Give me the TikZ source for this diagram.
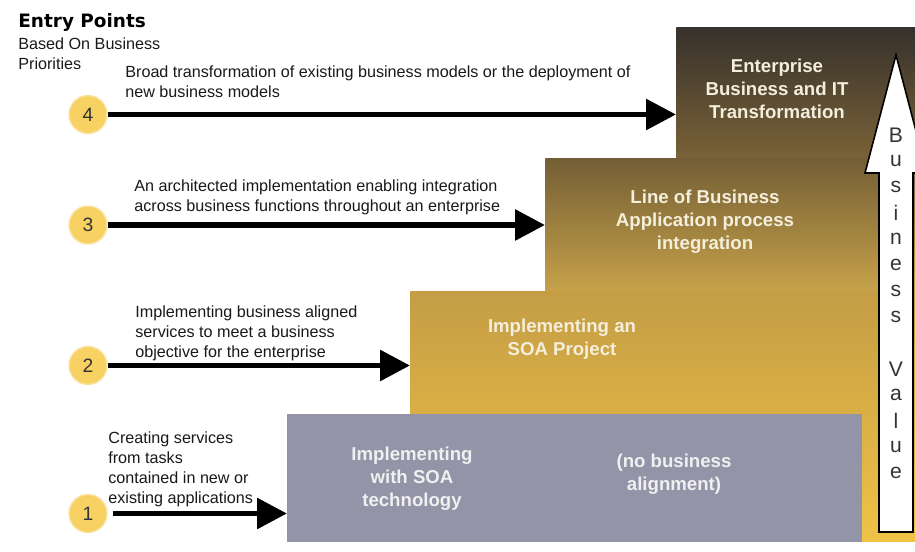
\documentclass[tikz,border=0pt]{standalone}
\usepackage{fontspec}
\setmainfont{Liberation Sans}
\newfontfamily\headfont{DejaVu Sans}
\usepackage{xcolor}
\usetikzlibrary{arrows.meta,positioning,shapes}

\definecolor{topstepA}{HTML}{36312C}
\definecolor{topstepB}{HTML}{7A6237}
\definecolor{lobA}{HTML}{735E35}
\definecolor{lobB}{HTML}{C7A24A}
\definecolor{projA}{HTML}{C49D45}
\definecolor{projB}{HTML}{F0C246}
\definecolor{techgray}{HTML}{9494A9}
\definecolor{badge}{HTML}{F7D262}
\definecolor{badgeedge}{HTML}{FAE3A2}
\definecolor{cream}{HTML}{F4EEDC}

\begin{document}
\begin{tikzpicture}[
    stepbox/.style={rectangle, inner sep=0pt, anchor=north west},
    boxtext/.style={align=center, text=cream, font=\bfseries\fontsize{10.6}{13}\selectfont},
    note/.style={anchor=north west, inner sep=0pt, align=left, text=black!90, font=\fontsize{9.2}{11.4}\selectfont},
    badgenode/.style={circle, minimum size=0.76cm, inner sep=0pt, fill=badge, draw=badgeedge, line width=0.8pt, text=black!80, font=\fontsize{11}{13}\selectfont},
    entry/.style={-{Triangle[length=0.6cm,width=0.6cm]}, line width=3.4pt},
    valueletter/.style={inner sep=0pt, text=black!80, font=\fontsize{12}{14}\selectfont}
]
\clip (0,0) rectangle (18.3,-11.04);

% Heading
\node[anchor=north west, inner sep=0pt, font=\headfont\bfseries\fontsize{10.5}{12}\selectfont] (title) at (0.36,-0.26) {Entry Points};
\node[note] (subtitle) at (0.36,-0.74) {Based On Business\\Priorities};

% Steps
\node[stepbox, minimum width=4.78cm, minimum height=2.62cm, top color=topstepA, bottom color=topstepB] (box4) at (13.52,-0.54) {};
\node[stepbox, minimum width=7.4cm, minimum height=2.66cm, top color=lobA, bottom color=lobB] (box3) at (10.9,-3.16) {};
\node[stepbox, minimum width=10.1cm, minimum height=5cm, top color=projA, middle color=projB, bottom color=projB] (box2) at (8.2,-5.82) {};
\node[stepbox, minimum width=11.5cm, minimum height=2.56cm, fill=techgray] (box1) at (5.74,-8.28) {};

\node[boxtext] (label4) at (15.54,-1.78) {Enterprise\\Business and IT\\Transformation};
\node[boxtext] (label3) at (14.1,-4.44) {Line of Business\\Application process\\integration};
\node[boxtext] (label2) at (11.24,-6.78) {Implementing an\\SOA Project};
\node[boxtext, text=white!94!black] (label1) at (8.24,-9.58) {Implementing\\with SOA\\technology};
\node[boxtext, text=white!94!black] (label1b) at (13.48,-9.48) {(no business\\alignment)};

% Business value
\draw[fill=white, line width=0.9pt] (17.58,-10.64) -- (17.58,-3.46) -- (17.3,-3.46) -- (17.92,-1.1)
    -- (18.54,-3.46) -- (18.26,-3.46) -- (18.26,-10.64) -- cycle;
\foreach \ch [count=\k] in {B,u,s,i,n,e,s,s,{},V,a,l,u,e}
    \node[valueletter] (value\k) at (17.92,{-2.18-0.52*\k}) {\ch};

% Entry points
\node[badgenode] (c4) at (1.76,-2.29) {4};
\node[badgenode] (c3) at (1.76,-4.5) {3};
\node[badgenode] (c2) at (1.76,-7.31) {2};
\node[badgenode] (c1) at (1.76,-10.27) {1};

\node[note] (note4) at (2.5,-1.3) {Broad transformation of existing business models or the deployment of\\new business models};
\node[note] (note3) at (2.68,-3.58) {An architected implementation enabling integration\\across business functions throughout an enterprise};
\node[note] (note2) at (2.7,-6.1) {Implementing business aligned\\services to meet a business\\objective for the enterprise};
\node[note] (note1) at (2.16,-8.62) {Creating services\\from tasks\\contained in new or\\existing applications};

% Arrows
\draw[entry] (c4) -- (c4 -| box4.west);
\draw[entry] (c3) -- (c3 -| box3.west);
\draw[entry] (c2) -- (c2 -| box2.west);
\draw[entry, shorten <=0.1cm] (c1) -- (c1 -| box1.west);

\end{tikzpicture}
\end{document}
